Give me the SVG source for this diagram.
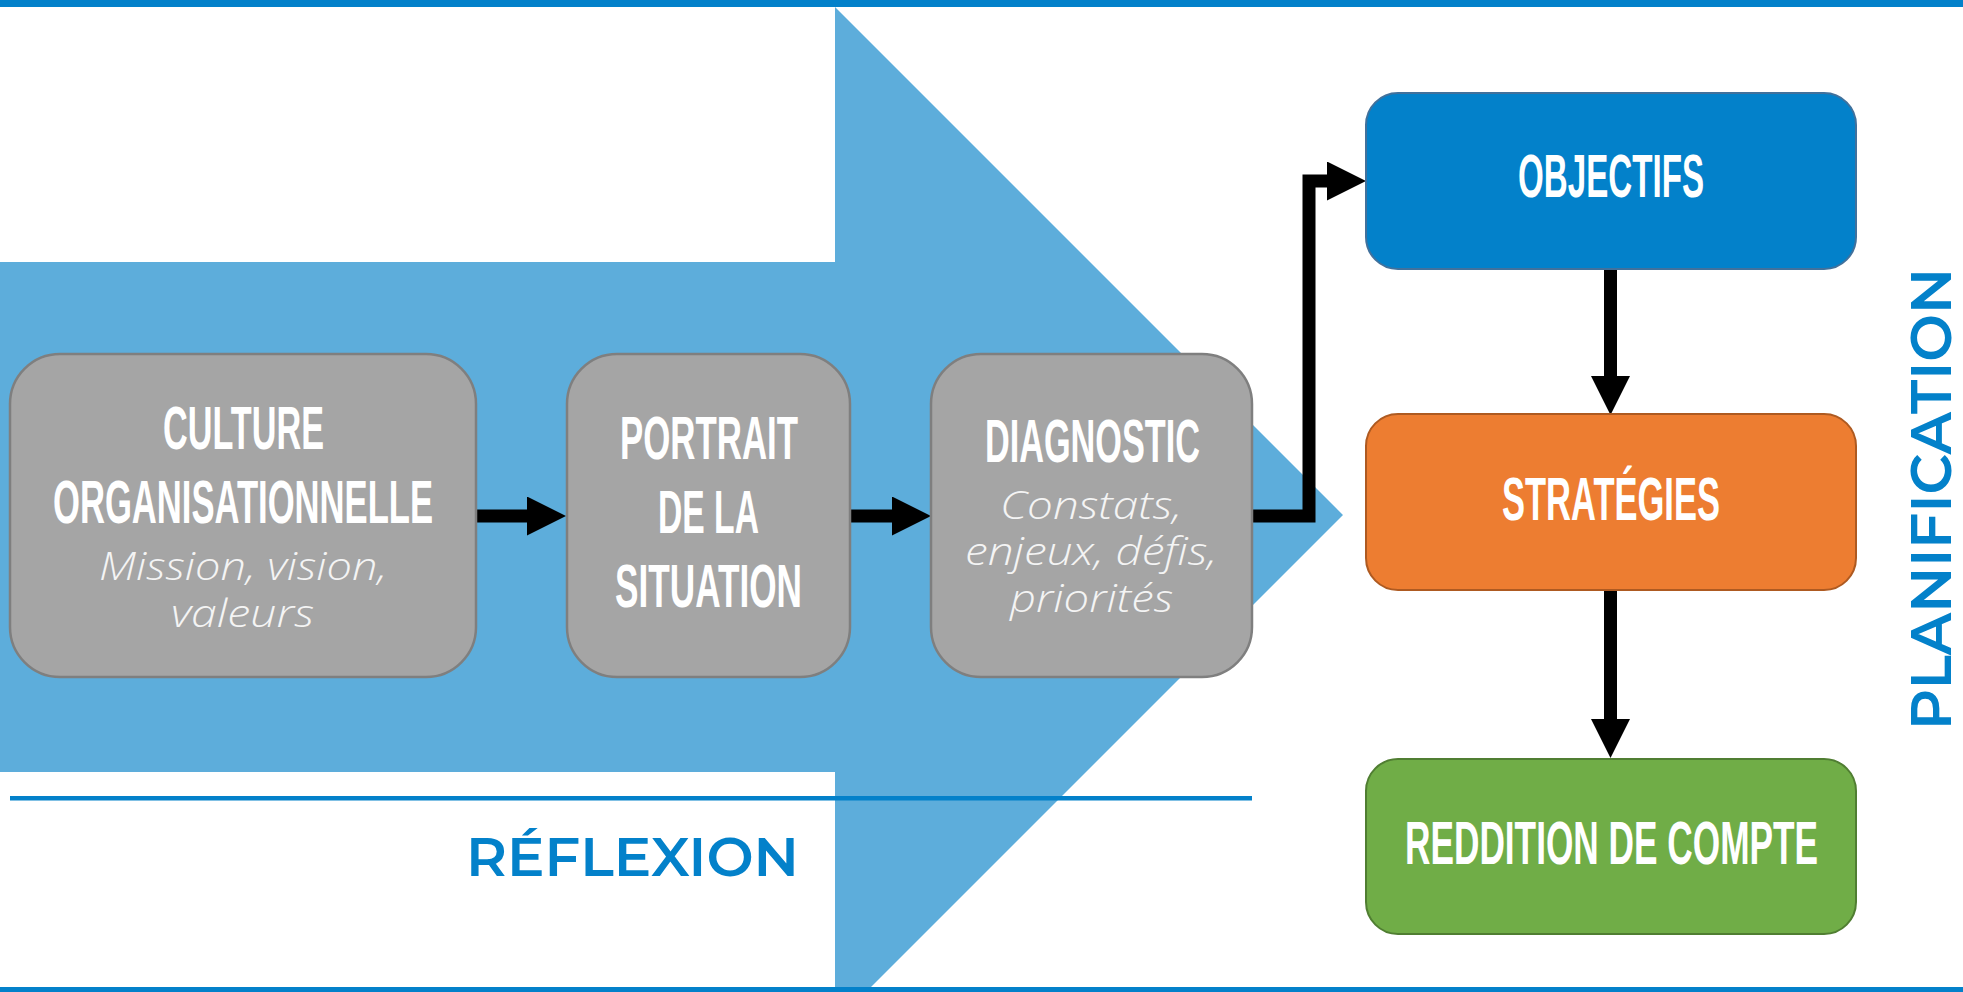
<svg xmlns="http://www.w3.org/2000/svg" width="1963" height="992" viewBox="0 0 1963 992">
<defs>
<style>
.bg{fill:#FFFFFF}
.band{fill:#5DADDB}
.bar{fill:#0381CA}
.gray{fill:#A5A5A5;stroke:#7F7F7F;stroke-width:2.5}
.blue{fill:#0381CA;stroke:#41719C;stroke-width:2}
.orange{fill:#ED7D31;stroke:#AE5A21;stroke-width:2}
.green{fill:#70AD47;stroke:#507E32;stroke-width:2}
.h{font-family:"Liberation Sans Narrow","Liberation Sans","DejaVu Sans Condensed",sans-serif;font-weight:700;font-size:62px;fill:#FFFFFF;text-anchor:middle}
.it{font-family:"Open Sans","Lato","Liberation Sans",sans-serif;font-style:italic;font-weight:300;font-size:39px;fill:#F4F4F4;text-anchor:middle}
.lbl{font-family:"Montserrat","Inter","Liberation Sans",sans-serif;font-weight:600;fill:#0381CA;text-anchor:middle}
.conn{fill:none;stroke:#000000;stroke-width:13;stroke-linejoin:miter;stroke-linecap:butt}
</style>
<marker id="ah" markerUnits="userSpaceOnUse" markerWidth="40" markerHeight="40" refX="0" refY="19.5" orient="auto">
<path d="M0,0 L39,19.5 L0,39 Z" fill="#000000"/>
</marker>
</defs>
<rect class="bg" x="0" y="0" width="1963" height="992"/>
<g id="background">
<polygon class="band" points="0,262 835,262 835,7 1343,515 835,1023 835,772 0,772"/>
<rect class="bar" x="0" y="0" width="1963" height="7"/>
<rect class="bar" x="0" y="987" width="1963" height="5"/>
<rect class="bar" x="10" y="796" width="1242" height="4.5"/>
<text class="lbl" x="632.5" y="876" font-size="54" font-weight="500" textLength="333" lengthAdjust="spacingAndGlyphs">RÉFLEXION</text>
<text class="lbl" transform="translate(1951,499) rotate(-90)" x="0" y="0" font-size="57" textLength="462" lengthAdjust="spacingAndGlyphs">PLANIFICATION</text>
</g>
<g id="connectors">
<path class="conn" d="M476,516 H527" marker-end="url(#ah)"/>
<path class="conn" d="M850,516 H892" marker-end="url(#ah)"/>
<path class="conn" d="M1252,516 H1309 V181 H1327" marker-end="url(#ah)"/>
<path class="conn" d="M1610.5,269 V376" marker-end="url(#ah)"/>
<path class="conn" d="M1610.5,590 V719" marker-end="url(#ah)"/>
</g>
<g id="culture">
<rect class="gray" x="10" y="354" width="466" height="323" rx="50"/>
<text class="h" x="243.5" y="449" textLength="161" lengthAdjust="spacingAndGlyphs">CULTURE</text>
<text class="h" x="243" y="523" textLength="380" lengthAdjust="spacingAndGlyphs">ORGANISATIONNELLE</text>
<text class="it" x="243" y="580" textLength="288" lengthAdjust="spacingAndGlyphs">Mission, vision,</text>
<text class="it" x="242.5" y="627" textLength="143" lengthAdjust="spacingAndGlyphs">valeurs</text>
</g>
<g id="portrait">
<rect class="gray" x="567" y="354" width="283" height="323" rx="50"/>
<text class="h" x="709" y="459" textLength="178" lengthAdjust="spacingAndGlyphs">PORTRAIT</text>
<text class="h" x="708.5" y="533" textLength="101" lengthAdjust="spacingAndGlyphs">DE LA</text>
<text class="h" x="708.5" y="607" textLength="187" lengthAdjust="spacingAndGlyphs">SITUATION</text>
</g>
<g id="diagnostic">
<rect class="gray" x="931" y="354" width="321" height="323" rx="50"/>
<text class="h" x="1092.5" y="462" textLength="215" lengthAdjust="spacingAndGlyphs">DIAGNOSTIC</text>
<text class="it" x="1091" y="519" textLength="182" lengthAdjust="spacingAndGlyphs">Constats,</text>
<text class="it" x="1091" y="565" textLength="252" lengthAdjust="spacingAndGlyphs">enjeux, défis,</text>
<text class="it" x="1091.5" y="612" textLength="163" lengthAdjust="spacingAndGlyphs">priorités</text>
</g>
<g id="objectifs">
<rect class="blue" x="1366" y="93" width="490" height="176" rx="32"/>
<text class="h" x="1611" y="197" textLength="186" lengthAdjust="spacingAndGlyphs">OBJECTIFS</text>
</g>
<g id="strategies">
<rect class="orange" x="1366" y="414" width="490" height="176" rx="32"/>
<text class="h" x="1611" y="520" textLength="218" lengthAdjust="spacingAndGlyphs">STRATÉGIES</text>
</g>
<g id="reddition">
<rect class="green" x="1366" y="759" width="490" height="175" rx="32"/>
<text class="h" x="1611.5" y="864" textLength="413" lengthAdjust="spacingAndGlyphs">REDDITION DE COMPTE</text>
</g>
</svg>
